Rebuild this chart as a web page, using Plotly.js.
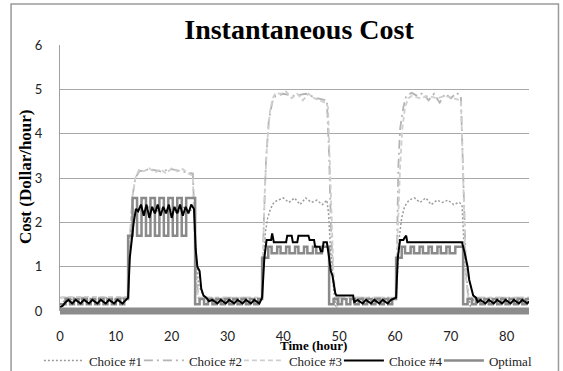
<!DOCTYPE html>
<html>
<head>
<meta charset="utf-8">
<script src="https://cdn.plot.ly/plotly-3.0.1.min.js"></script>
<style>html,body{margin:0;padding:0;background:#fff;}#chart{width:563px;height:371px;}</style>
</head>
<body>
<div id="chart"></div>
<script>
// ---- data (time in hours, cost in $/hour) ----
const seriesNames = ["Choice #1", "Choice #2", "Choice #3", "Choice #4", "Optimal"];
const xTicks = [0, 10, 20, 30, 40, 50, 60, 70, 80];
const yTicks = [0, 1, 2, 3, 4, 5, 6];

const choice1Pts = [[0,0.15],[1,0.25],[3,0.27],[5,0.25],[7,0.27],[9,0.25],[11,0.27],[12.2,0.3],[12.6,1.5],[13.2,2.1],[14,2.3],[15,2.25],[16,2.35],[17,2.2],[18,2.35],[19,2.25],[20,2.3],[21,2.2],[22,2.35],[23,2.25],[24,2.3],[24.4,1.2],[24.8,0.6],[25.3,0.45],[25.8,0.3],[27,0.25],[29,0.27],[31,0.25],[33,0.27],[35,0.25],[36.2,0.3],[36.5,1.3],[36.8,1.8],[37.2,2.1],[37.7,2.3],[38.3,2.45],[39,2.5],[40,2.55],[41,2.45],[42,2.55],[43,2.4],[44,2.55],[45,2.45],[46,2.5],[47,2.4],[47.8,2.5],[48.1,2.2],[48.4,1.5],[48.7,0.9],[49,0.5],[49.4,0.1],[49.8,0.25],[51,0.27],[53,0.25],[55,0.27],[57,0.25],[59,0.27],[60.2,0.3],[60.5,1.0],[60.8,1.7],[61.2,2.1],[61.7,2.35],[62.5,2.5],[63.5,2.55],[64.5,2.45],[65.5,2.55],[66.5,2.4],[67.5,2.5],[68.5,2.45],[69.5,2.5],[70.5,2.4],[71.5,2.45],[72,2.4],[72.3,1.6],[72.6,0.9],[73,0.5],[73.5,0.1],[74,0.25],[76,0.27],[78,0.25],[80,0.27],[82,0.25],[84,0.27]];

const choice2Pts = [[0,0.3],[12.2,0.3],[12.5,1.6],[13,2.6],[13.5,3.0],[14.2,3.15],[16,3.2],[18,3.15],[20,3.2],[22,3.15],[23.8,3.1],[24.1,2.0],[24.4,0.8],[24.8,0.3],[36.2,0.3],[36.5,2.0],[36.9,3.4],[37.4,4.3],[38,4.7],[38.6,4.85],[40,4.9],[42,4.85],[44,4.9],[46,4.8],[47.8,4.75],[48.2,3.5],[48.5,2.0],[48.9,0.8],[49.3,0.3],[60.2,0.3],[60.4,1.5],[60.6,3.25],[60.9,4.1],[61.5,4.6],[62,4.85],[63,4.92],[64,4.85],[65,4.92],[66,4.75],[67,4.9],[68,4.7],[69,4.9],[70,4.8],[71,4.92],[71.8,4.85],[72.1,3.7],[72.4,2.3],[72.7,1.0],[73.1,0.3],[84,0.3]];

const choice3Pts = [[0,0.3],[1,0.32],[12.2,0.32],[12.6,1.8],[13,2.6],[13.5,3.0],[14.2,3.2],[15,3.15],[16,3.22],[17,3.12],[18,3.2],[19,3.1],[20,3.22],[21,3.15],[22,3.2],[23,3.1],[23.8,3.05],[24.1,1.8],[24.4,0.6],[24.7,0.3],[36.2,0.3],[36.4,1.5],[36.7,2.8],[37.1,3.8],[37.6,4.5],[38.1,4.8],[38.6,4.92],[39.5,4.9],[40.5,4.95],[41.5,4.8],[42.5,4.9],[43.5,4.75],[44.5,4.9],[45.5,4.8],[46.5,4.75],[47.5,4.7],[48,4.6],[48.3,3.5],[48.6,2.0],[49,0.8],[49.4,0.3],[49.6,0.05],[50.2,0.3],[60.2,0.3],[60.5,1.8],[60.9,3.2],[61.3,4.1],[61.8,4.6],[62.4,4.8],[63,4.85],[64.5,4.8],[66,4.85],[67.5,4.8],[69,4.85],[70.5,4.8],[71.8,4.75],[72.1,3.5],[72.4,2.0],[72.7,0.8],[73.1,0.3],[84,0.3]];

const choice4Pts = [[0,0.08],[0.5,0.12],[1,0.2],[1.5,0.25],[2.2,0.17],[2.8,0.25],[3.7,0.17],[4.3,0.25],[5.2,0.17],[5.8,0.25],[6.7,0.17],[7.3,0.25],[8.2,0.17],[8.8,0.25],[9.7,0.17],[10.3,0.25],[11.2,0.17],[11.8,0.25],[12.2,0.3],[12.5,1.2],[12.8,1.6],[13.2,2.0],[13.6,2.3],[14,2.25],[14.5,2.4],[15,2.15],[15.5,2.4],[16,2.1],[16.5,2.35],[17,2.2],[17.5,2.4],[18,2.15],[18.5,2.35],[19,2.2],[19.5,2.4],[20,2.1],[20.5,2.35],[21,2.2],[21.5,2.4],[22,2.15],[22.5,2.35],[23,2.2],[23.5,2.4],[24,2.3],[24.3,1.4],[24.6,1.0],[25,0.9],[25.3,0.5],[25.7,0.35],[26.2,0.3],[26.7,0.22],[27.3,0.25],[28.2,0.17],[28.8,0.25],[29.7,0.17],[30.3,0.25],[31.2,0.17],[31.8,0.25],[32.7,0.17],[33.3,0.25],[34.2,0.17],[34.8,0.25],[35.7,0.17],[36.2,0.3],[36.6,1.2],[37,1.6],[37.8,1.6],[38,1.75],[38.3,1.55],[40.5,1.55],[40.7,1.7],[41.5,1.7],[41.7,1.55],[42.5,1.55],[42.7,1.7],[44.5,1.7],[44.7,1.6],[45.5,1.6],[45.7,1.45],[46.5,1.45],[46.7,1.35],[47,1.35],[47.2,1.55],[47.8,1.55],[48.2,1.2],[48.5,0.9],[48.8,0.8],[49.1,0.55],[49.3,0.4],[49.5,0.35],[52.5,0.35],[52.7,0.2],[53.3,0.25],[54.2,0.17],[54.8,0.25],[55.7,0.17],[56.3,0.25],[57.2,0.17],[57.8,0.25],[58.7,0.17],[59.3,0.25],[60.2,0.3],[60.5,1.2],[60.9,1.6],[61.5,1.6],[61.7,1.65],[62,1.7],[62.2,1.55],[72,1.55],[72.5,1.3],[73,1.0],[73.3,0.7],[73.7,0.5],[74,0.35],[74.5,0.3],[74.8,0.2],[75.3,0.25],[76.2,0.17],[76.8,0.25],[77.7,0.17],[78.3,0.25],[79.2,0.17],[79.8,0.25],[80.7,0.17],[81.3,0.25],[82.2,0.17],[82.8,0.25],[83.7,0.17],[84,0.22]];

// optimal schedule: step function (value holds until next change)
const optimalPts = [[0,0.15],[1,0.27],[1.8,0.15],[2.5,0.27],[3.3,0.15],[4,0.27],[4.8,0.15],[5.5,0.27],[6.3,0.15],[7,0.27],[7.8,0.15],[8.5,0.27],[9.3,0.15],[10,0.27],[10.8,0.15],[11.5,0.27],[12.2,1.7],[13,2.55],[13.8,1.7],[14.6,2.55],[15.4,1.7],[16.2,2.55],[17,1.7],[17.8,2.55],[18.6,1.7],[19.4,2.55],[20.2,1.7],[21,2.55],[21.8,1.7],[22.6,2.55],[24.2,0.15],[25,0.27],[25.8,0.15],[26.5,0.27],[27.3,0.15],[28,0.27],[28.8,0.15],[29.5,0.27],[30.3,0.15],[31,0.27],[31.8,0.15],[32.5,0.27],[33.3,0.15],[34,0.27],[34.8,0.15],[35.5,0.27],[36.2,1.2],[37.3,1.45],[37.9,1.3],[38.9,1.45],[39.5,1.3],[40.5,1.45],[41.1,1.3],[42.1,1.45],[42.7,1.3],[43.7,1.45],[44.3,1.3],[45.3,1.45],[45.9,1.3],[46.9,1.45],[48.2,0.15],[49,0.27],[49.8,0.15],[50.5,0.27],[51.3,0.15],[52,0.27],[52.8,0.15],[53.5,0.27],[54.3,0.15],[55,0.27],[55.8,0.15],[56.5,0.27],[57.3,0.15],[58,0.27],[58.8,0.15],[59.5,0.27],[60.2,1.2],[61.2,1.45],[61.8,1.3],[62.8,1.45],[63.4,1.3],[64.4,1.45],[65,1.3],[66,1.45],[66.6,1.3],[67.6,1.45],[68.2,1.3],[69.2,1.45],[69.8,1.3],[70.8,1.45],[72.2,0.15],[73,0.27],[73.8,0.15],[74.5,0.27],[75.3,0.15],[76,0.27],[76.8,0.15],[77.5,0.27],[78.3,0.15],[79,0.27],[79.8,0.15],[80.5,0.27],[81.3,0.15],[82,0.27],[82.8,0.15],[83.5,0.27],[84,0.27]];

// ---- build ----
const xs = p => p.map(d => d[0]);
const ys = p => p.map(d => d[1]);
const serif = "Liberation Serif, Times New Roman, serif";

const traces = [
  {x: xs(choice1Pts), y: ys(choice1Pts), name: seriesNames[0], legendrank: 1, mode: "lines",
   line: {color: "#9a9a9a", width: 1.5, dash: "2px,2px"}},
  {x: xs(choice2Pts), y: ys(choice2Pts), name: seriesNames[1], legendrank: 2, mode: "lines",
   line: {color: "#b4b4b4", width: 1.8, dash: "9px,4px,2px,4px"}},
  {x: xs(choice3Pts), y: ys(choice3Pts), name: seriesNames[2], legendrank: 3, mode: "lines",
   line: {color: "#cfcfcf", width: 1.8, dash: "5px,3px"}},
  {x: xs(optimalPts), y: ys(optimalPts), name: seriesNames[4], legendrank: 5, mode: "lines",
   line: {color: "#8a8a8a", width: 2.5, shape: "hv"}},
  {x: xs(choice4Pts), y: ys(choice4Pts), name: seriesNames[3], legendrank: 4, mode: "lines",
   line: {color: "#000000", width: 2}}
];

const layout = {
  width: 563, height: 371,
  margin: {l: 60, r: 33.5, t: 45, b: 60, autoexpand: false},
  paper_bgcolor: "#fff", plot_bgcolor: "#fff",
  title: {text: "<b>Instantaneous Cost</b>", font: {family: serif, size: 28, color: "#000"},
          x: 299/563, xref: "container", xanchor: "center", y: 1 - 29/371, yref: "container", yanchor: "middle"},
  xaxis: {range: [0, 84], tickvals: xTicks, ticktext: xTicks.map(String), showgrid: false, zeroline: false,
          showline: false, ticks: "", ticklabelstandoff: 16,
          tickfont: {family: "Lato, Open Sans, sans-serif", size: 13, color: "#222"}},
  yaxis: {range: [0, 6], tickvals: yTicks, ticktext: yTicks.map(String), showgrid: true, gridcolor: "#a8a8a8", gridwidth: 1,
          zeroline: false, showline: true, linecolor: "#a0a0a0", linewidth: 1, ticks: "", ticklabelstandoff: 14,
          tickfont: {family: "Lato, Open Sans, sans-serif", size: 13, color: "#222"}},
  showlegend: true,
  legend: {orientation: "h", x: -0.045, xanchor: "left", y: -0.186, yanchor: "middle",
           font: {family: serif, size: 13, color: "#222"}, itemwidth: 40, entrywidth: 45, entrywidthmode: "pixels",
           tracegroupgap: 0, bgcolor: "rgba(0,0,0,0)"},
  shapes: [
    {type: "line", xref: "paper", yref: "paper", x0: 0, x1: 1, y0: 0, y1: 0, line: {color: "#8c8c8c", width: 7}},
    {type: "rect", xref: "paper", yref: "paper", x0: (11-60)/469.5, x1: (559-60)/469.5, y0: (311-373)/266, y1: (311-4)/266,
     line: {color: "#9a9a9a", width: 1.5}}
  ],
  annotations: [
    {text: "<b>Cost (Dollar/hour)</b>", xref: "paper", yref: "paper", x: (25-60)/469.5, y: (311-177)/266,
     xanchor: "center", yanchor: "middle", textangle: -90, showarrow: false, font: {family: serif, size: 17, color: "#000"}},
    {text: "<b>Time (hour)</b>", xref: "paper", yref: "paper", x: (314-60)/469.5, y: (311-345)/266,
     xanchor: "center", yanchor: "middle", showarrow: false, font: {family: serif, size: 13, color: "#000"}}
  ]
};

Plotly.newPlot("chart", traces, layout, {displayModeBar: false, staticPlot: true});
</script>
</body>
</html>
